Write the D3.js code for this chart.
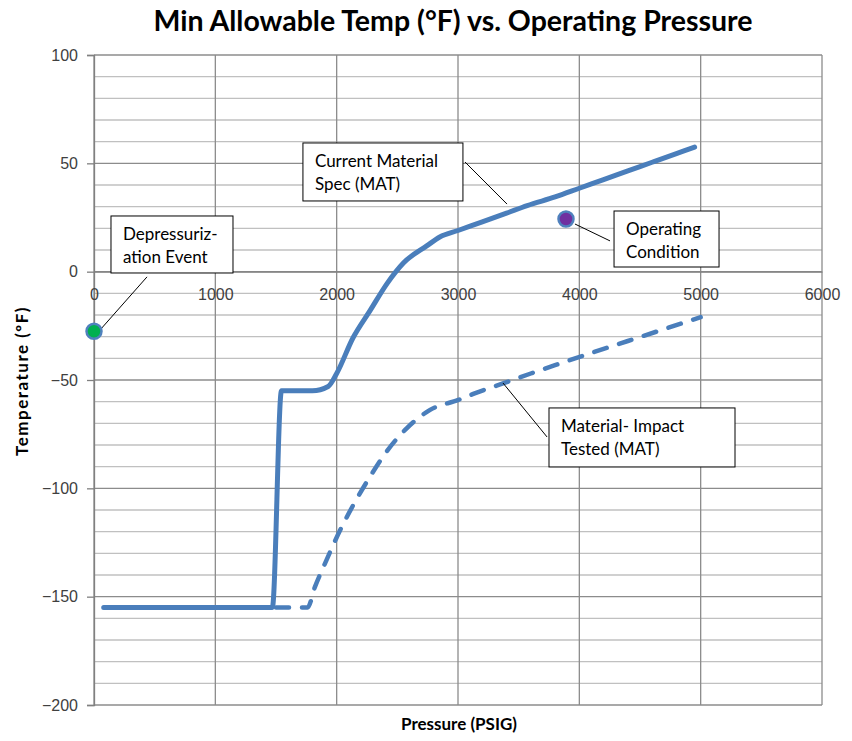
<!DOCTYPE html>
<meta charset="utf-8">
<style>
  body { margin: 0; background: white; }
  svg { background-color: white; font-family: Lato, "Open Sans", sans-serif; }
  .tick-label { font-size: 16px; fill: #404040; }
  .title { font-size: 28.5px; font-weight: bold; fill: #000; }
  .axis-title { font-size: 17px; font-weight: bold; fill: #000; }
  .note-box { fill: white; stroke: #000; stroke-width: 1; }
  .note-text { font-size: 17px; fill: #000; }
  .leader { stroke: #000; stroke-width: 1; }
</style>
<body>
<div id="chart"></div>
<script src="https://d3js.org/d3.v7.min.js"></script>
<script>
  // data
  var currentSpecP = [80, 1470, 1545, 1800, 1930, 2000, 2135, 2275, 2415, 2550, 2745, 2850, 3000, 3200, 3400, 3570, 3800, 4000, 4200, 4400, 4600, 4800, 4950];
  var currentSpecT = [-155, -155, -55, -55, -53, -47, -30.5, -18, -5.5, 4, 12, 16, 19, 23, 27, 30.5, 34.5, 38.5, 42.5, 46.5, 50.5, 54.5, 57.5];

  var impactP = [1500, 1760, 1821, 1917, 2027, 2137, 2275, 2412, 2577, 2770, 3003, 3126, 3370, 3600, 3840, 4100, 4400, 4700, 5000];
  var impactT = [-155, -155, -145.5, -133, -119.5, -107.7, -94.6, -83, -72.3, -63.8, -59.2, -56.4, -51.6, -47, -42.4, -37.5, -32, -26.5, -21];

  var eventP = [0, 3890];
  var eventT = [-27.5, 24.3];
  var eventFill = ["#00b050", "#7030a0"];

  var xTicks = [0, 1000, 2000, 3000, 4000, 5000, 6000];
  var yTicks = [100, 50, 0, -50, -100, -150, -200];
  var yMinor = d3.range(-200, 101, 10);

  // callouts: text lines, box corner (data units), box size, leader ends (data units)
  var notes = [
    {lines: ["Depressuriz-", "ation Event"], p: 140, t: 25.7, w: 122, h: 57, from: [437, -2.4], to: [50, -26.9]},
    {lines: ["Current Material", "Spec (MAT)"], p: 1722, t: 59.4, w: 160, h: 58, from: [3058, 50.6], to: [3404, 31.2]},
    {lines: ["Operating", "Condition"], p: 4286, t: 28, w: 105, h: 56, from: [3964, 22], to: [4253, 14.2]},
    {lines: ["Material- Impact", "Tested (MAT)"], p: 3750, t: -62.9, w: 186, h: 59, from: [3371, -51.4], to: [3734, -76.3]}
  ];

  var width = 852, height = 741;
  var x = d3.scaleLinear().domain([0, 6000]).range([94, 822]);
  var y = d3.scaleLinear().domain([-200, 100]).range([705, 55]);

  var svg = d3.select("#chart").append("svg")
      .attr("width", width)
      .attr("height", height);

  // horizontal grid, every 10
  svg.append("g").selectAll("line")
    .data(yMinor)
    .enter().append("line")
      .attr("x1", x(0)).attr("x2", x(6000))
      .attr("y1", function(d) { return y(d); })
      .attr("y2", function(d) { return y(d); })
      .attr("stroke", function(d) { return d % 50 == 0 ? "#8c8c8c" : "#c0c0c0"; })
      .attr("stroke-width", 1.3);

  // vertical grid
  svg.append("g").selectAll("line")
    .data(xTicks)
    .enter().append("line")
      .attr("x1", function(d) { return x(d); })
      .attr("x2", function(d) { return x(d); })
      .attr("y1", y(100)).attr("y2", y(-200))
      .attr("stroke", "#8c8c8c")
      .attr("stroke-width", 1.3);

  // y axis
  var yAxis = svg.append("g")
      .attr("transform", "translate(" + x(0) + ",0)")
      .call(d3.axisLeft(y).tickValues(yTicks).tickSize(7).tickPadding(9));
  yAxis.select(".domain").attr("stroke", "#808080").attr("stroke-width", 1.3);
  yAxis.selectAll(".tick line").attr("stroke", "#808080").attr("stroke-width", 1.3);
  yAxis.selectAll(".tick text").attr("class", "tick-label").attr("font-family", null).attr("font-size", null);

  // x axis sits on T = 0
  var xAxis = svg.append("g")
      .attr("transform", "translate(0," + y(0) + ")")
      .call(d3.axisBottom(x).tickValues(xTicks).tickFormat(d3.format("d")).tickSize(0).tickPadding(17));
  xAxis.select(".domain").attr("stroke", "#808080").attr("stroke-width", 1.3);
  xAxis.selectAll(".tick text").attr("class", "tick-label").attr("font-family", null).attr("font-size", null);

  // series
  var line = d3.line()
    .x(function(d) { return x(d[0]); })
    .y(function(d) { return y(d[1]); })
    .curve(d3.curveMonotoneX);

  var specData = d3.zip(currentSpecP, currentSpecT);
  var impactData = d3.zip(impactP, impactT);

  svg.append("path")
    .datum(impactData)
    .attr("d", line)
    .attr("fill", "none")
    .attr("stroke", "#4a7ebb")
    .attr("stroke-width", 4.5)
    .attr("stroke-linecap", "round")
    .attr("stroke-dasharray", "13,13");

  svg.append("path")
    .datum(specData)
    .attr("d", line)
    .attr("fill", "none")
    .attr("stroke", "#4a7ebb")
    .attr("stroke-width", 5)
    .attr("stroke-linejoin", "round")
    .attr("stroke-linecap", "round");

  // callouts
  var note = svg.append("g").selectAll("g")
    .data(notes)
    .enter().append("g");

  note.append("line")
    .attr("class", "leader")
    .attr("x1", function(d) { return x(d.from[0]); })
    .attr("y1", function(d) { return y(d.from[1]); })
    .attr("x2", function(d) { return x(d.to[0]); })
    .attr("y2", function(d) { return y(d.to[1]); });

  note.append("rect")
    .attr("class", "note-box")
    .attr("x", function(d) { return x(d.p); })
    .attr("y", function(d) { return y(d.t); })
    .attr("width", function(d) { return d.w; })
    .attr("height", function(d) { return d.h; });

  note.each(function(d) {
    var g = d3.select(this);
    d.lines.forEach(function(txt, i) {
      g.append("text")
        .attr("class", "note-text")
        .attr("x", x(d.p) + 12)
        .attr("y", y(d.t) + 24 + i * 23)
        .text(txt);
    });
  });

  // event points
  svg.append("g").selectAll("circle")
    .data(d3.range(eventP.length))
    .enter().append("circle")
      .attr("cx", function(i) { return x(eventP[i]); })
      .attr("cy", function(i) { return y(eventT[i]); })
      .attr("r", 7.5)
      .attr("fill", function(i) { return eventFill[i]; })
      .attr("stroke", "#4f81bd")
      .attr("stroke-width", 2.5);

  // titles
  svg.append("text")
    .attr("class", "title")
    .attr("x", 453).attr("y", 31)
    .attr("text-anchor", "middle")
    .text("Min Allowable Temp (°F) vs. Operating Pressure");

  svg.append("text")
    .attr("class", "axis-title")
    .attr("x", 459).attr("y", 730)
    .attr("text-anchor", "middle")
    .text("Pressure (PSIG)");

  svg.append("text")
    .attr("class", "axis-title")
    .attr("transform", "translate(28,381) rotate(-90)")
    .attr("text-anchor", "middle")
    .style("letter-spacing", "1.5px")
    .text("Temperature  (ºF)");
</script>
</body>
